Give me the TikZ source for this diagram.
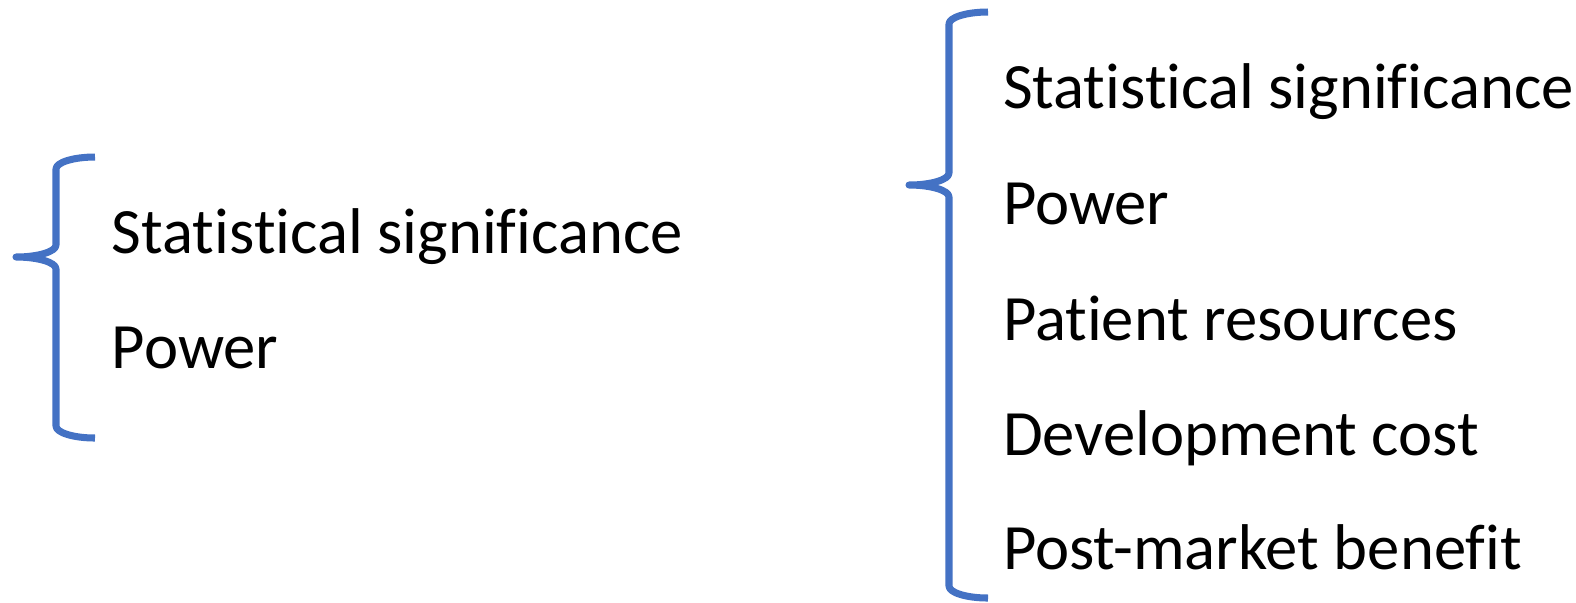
\documentclass[tikz,border=0pt]{standalone}
\usepackage{fontspec}
\setmainfont{Carlito}[Ligatures={NoCommon,NoContextual}]
\usetikzlibrary{positioning}
\definecolor{braceblue}{HTML}{4472C4}

\begin{document}
\begin{tikzpicture}
\tikzstyle{item}=[anchor=base west,inner sep=0pt,outer sep=0pt,
font=\fontsize{18.4}{22}\selectfont]
\tikzstyle{brace}=[draw=braceblue,line width=2pt,line join=round]
\useasboundingbox (0,0) rectangle (15.76,-6.02);

% left brace
\path[brace] (0.95,-1.57) arc[start angle=90,end angle=180,x radius=0.39,y radius=0.12]
 -- (0.56,-2.45) arc[start angle=0,end angle=-90,x radius=0.40,y radius=0.12]
 arc[start angle=90,end angle=0,x radius=0.40,y radius=0.12]
 -- (0.56,-4.26) arc[start angle=180,end angle=270,x radius=0.39,y radius=0.12];

% right brace
\path[brace] (9.88,-0.12) arc[start angle=90,end angle=180,x radius=0.39,y radius=0.12]
 -- (9.49,-1.73) arc[start angle=0,end angle=-90,x radius=0.40,y radius=0.12]
 arc[start angle=90,end angle=0,x radius=0.40,y radius=0.12]
 -- (9.49,-5.86) arc[start angle=180,end angle=270,x radius=0.39,y radius=0.12];

\node[item] at (1.12,-2.53) (l1) {Statistical significance};
\node[item] at (1.12,-3.68) (l2) {Power};

\node[item] at (10.03,-1.085) (r1) {Statistical significance};
\node[item] at (10.03,-2.24) (r2) {Power};
\node[item] at (10.03,-3.40) (r3) {Patient resources};
\node[item] at (10.03,-4.55) (r4) {Development cost};
\node[item] at (10.03,-5.69) (r5) {Post-market benefit};

\end{tikzpicture}
\end{document}
